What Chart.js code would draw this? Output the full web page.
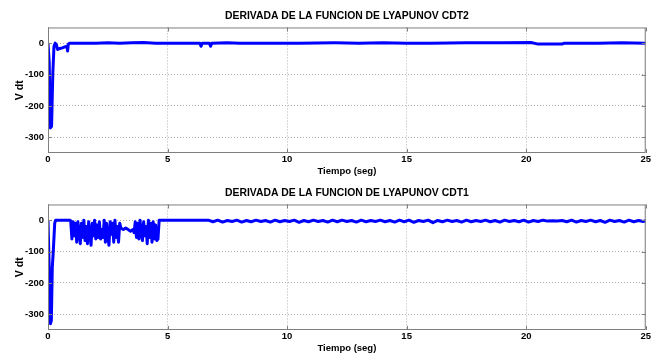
<!DOCTYPE html>
<html>
<head>
<meta charset="utf-8">
<script src="https://cdn.jsdelivr.net/npm/chart.js@4"></script>
<style>
  body { margin: 0; background: #fff; }
  .box { position: absolute; left: 0; width: 652px; height: 177px; }
  #top { top: 0; }
  #bottom { top: 177px; }
</style>
</head>
<body>
<div class="box" id="top"><canvas id="chartTop" width="652" height="177"></canvas></div>
<div class="box" id="bottom"><canvas id="chartBottom" width="652" height="177"></canvas></div>
<script>
// tick labels
const xTicks = [0, 5, 10, 15, 20, 25];
const yTicks = [-300, -200, -100, 0];

// CDT2 (upper plot)
const timeCdt2 = [0, 0.05, 0.1, 0.15, 0.2, 0.25, 0.3, 0.35, 0.4, 0.5, 0.6, 0.7, 0.8, 0.82, 0.85, 0.9,
  1.5, 2, 2.5, 3, 3.5, 4, 4.5, 5, 6, 6.35, 6.4, 6.45, 6.75, 6.8, 6.85, 7.5, 8, 10.5, 12, 13, 14, 15,
  16, 17.5, 19, 20.2, 20.5, 21.5, 21.6, 23, 24, 25];
const valCdt2 = [0, -60, -270, -265, -100, -10, 0, -5, -20, -17, -15, -12, -10, -25, -3, 0,
  0, 0, 1, 0, 1, 2, 0, 0, 0, 0, -10, 0, 0, -10, 0, 1, 0, 0, 1, 0, 1, 0,
  0, 1, 1, 2, -3, -3, 0, 0, 1, 0];

// CDT1 (lower plot)
const timeCdt1 = [0, 0.05, 0.1, 0.14, 0.18, 0.22, 0.28, 0.32, 0.9, 0.95,
  1.0, 1.05, 1.1, 1.15, 1.2, 1.25, 1.3, 1.35, 1.4, 1.45, 1.5, 1.55, 1.6, 1.65, 1.7, 1.75, 1.8, 1.85, 1.9, 1.95,
  2.0, 2.05, 2.1, 2.15, 2.2, 2.25, 2.3, 2.35, 2.4, 2.45, 2.5, 2.55, 2.6, 2.65, 2.7, 2.75, 2.8, 2.85, 2.9, 2.95, 3.0,
  3.05, 3.15, 3.25, 3.35, 3.45, 3.55, 3.6,
  3.65, 3.7, 3.75, 3.8, 3.85, 3.9, 3.95, 4.0, 4.05, 4.1, 4.15, 4.2, 4.25, 4.3, 4.35, 4.4, 4.45, 4.5, 4.55, 4.6, 4.65,
  6.7,
  6.9, 7.1, 7.3, 7.5, 7.7, 7.9, 8.1, 8.3, 8.5, 8.7, 8.9, 9.1, 9.3, 9.5, 9.7, 9.9, 10.1, 10.3, 10.5, 10.7,
  10.9, 11.1, 11.3, 11.5, 11.7, 11.9, 12.1, 12.3, 12.5, 12.7, 12.9, 13.1, 13.3, 13.5, 13.7, 13.9, 14.1, 14.3, 14.5, 14.7,
  14.9, 15.1, 15.3, 15.5, 15.7, 15.9, 16.1, 16.3, 16.5, 16.7, 16.9, 17.1, 17.3, 17.5, 17.7, 17.9, 18.1, 18.3, 18.5, 18.7,
  18.9, 19.1, 19.3, 19.5, 19.7, 19.9, 20.1, 20.3, 20.5, 20.7, 20.9, 21.1, 21.3, 21.5, 21.7, 21.9, 22.1, 22.3, 22.5, 22.7,
  22.9, 23.1, 23.3, 23.5, 23.7, 23.9, 24.1, 24.3, 24.5, 24.7, 24.9, 25];
const valCdt1 = [0, -150, -330, -320, -150, -100, -10, 0, 0, -2,
  -60, -5, -50, -10, -70, -5, -40, -75, -10, -55, 0, -65, -20, -75, -5, -45, -80, -10, -50, 0,
  -60, -15, -55, -5, -60, -30, -55, 0, -70, -10, -50, -80, -5, -45, -10, -70, 0, -55, -20, -70, -10,
  -25, -30, -25, -30, -35, -30, -40,
  -5, -55, -10, -60, 0, -45, -65, -5, -50, -20, -75, 0, -55, -10, -70, -5, -60, -15, -65, -60, 0,
  0,
  -5, 0, -6, -1, -4, 0, -6, -1, -5, 0, -4, -1, -6, 0, -5, -1, -4, 0, -7, -1,
  -5, 0, -4, -1, -6, 0, -5, 0, -4, -1, -6, 0, -5, -1, -4, 0, -5, -1, -6, 0,
  -5, 0, -7, -1, -4, 0, -8, -1, -5, 0, -4, -1, -6, 0, -5, -1, -4, 0, -5, -1,
  -6, 0, -4, -1, -5, 0, -6, -1, -4, 0, -3, -2, -3, -1, -5, 0, -6, -1, -4, 0,
  -5, -1, -7, 0, -4, -1, -6, 0, -5, -1, -4, -2];

const FONT = "'Liberation Sans', Arial, sans-serif";

// frame and inside tick marks, matlab style
const framePlugin = {
  id: "frame",
  afterDraw(chart) {
    const { ctx, chartArea: a, scales } = chart;
    ctx.save();
    ctx.strokeStyle = "#7f7f7f";
    ctx.lineWidth = 1;
    ctx.strokeRect(a.left + 0.5, a.top + 0.5, a.right - a.left - 1, a.bottom - a.top - 1);
    ctx.beginPath();
    xTicks.forEach(v => {
      const x = Math.round(scales.x.getPixelForValue(v)) + 0.5;
      ctx.moveTo(x, a.bottom); ctx.lineTo(x, a.bottom - 4);
      ctx.moveTo(x, a.top); ctx.lineTo(x, a.top + 4);
    });
    yTicks.forEach(v => {
      const y = Math.round(scales.y.getPixelForValue(v)) + 0.5;
      ctx.moveTo(a.left, y); ctx.lineTo(a.left + 4, y);
      ctx.moveTo(a.right, y); ctx.lineTo(a.right - 4, y);
    });
    ctx.stroke();
    ctx.restore();
  }
};

function makeChart(id, times, values, title) {
  return new Chart(document.getElementById(id), {
    type: "line",
    data: {
      datasets: [{
        data: times.map((t, i) => ({ x: t, y: values[i] })),
        borderColor: "#0000ff",
        borderWidth: 3,
        borderJoinStyle: "round",
        pointRadius: 0,
        tension: 0
      }]
    },
    options: {
      responsive: false,
      animation: false,
      layout: { padding: { left: 0, right: 6, top: 0, bottom: 0 } },
      plugins: {
        legend: { display: false },
        tooltip: { enabled: false },
        title: {
          display: true,
          text: title,
          fullSize: false,
          color: "#000",
          font: { family: FONT, size: 10.4, weight: "bold" },
          padding: { top: 10, bottom: 5 }
        }
      },
      scales: {
        x: {
          type: "linear",
          min: 0, max: 25,
          afterBuildTicks: s => { s.ticks = xTicks.map(v => ({ value: v })); },
          afterFit: s => { s.height = 24; },
          ticks: { color: "#000", font: { family: FONT, size: 9.5, weight: "bold" }, padding: 1, maxRotation: 0 },
          grid: { color: "#b0b0b0", tickLength: 0, drawTicks: false },
          border: { display: false, dash: [1, 2] },
          title: {
            display: true, text: "Tiempo (seg)", color: "#000",
            font: { family: FONT, size: 9.5, weight: "bold" }, padding: { top: 0, bottom: 0 }
          }
        },
        y: {
          min: -350, max: 50,
          afterBuildTicks: s => { s.ticks = yTicks.map(v => ({ value: v })); },
          afterFit: s => { s.width = 48; },
          ticks: { color: "#000", font: { family: FONT, size: 9.5, weight: "bold" }, padding: 4 },
          grid: { color: "#b0b0b0", tickLength: 0, drawTicks: false },
          border: { display: false, dash: [1, 2] },
          title: {
            display: true, text: "V dt", color: "#000",
            font: { family: FONT, size: 10.5, weight: "bold" }, padding: { top: 14, bottom: 4 }
          }
        }
      }
    },
    plugins: [framePlugin]
  });
}

makeChart("chartTop", timeCdt2, valCdt2, "DERIVADA DE LA FUNCION DE LYAPUNOV CDT2");
makeChart("chartBottom", timeCdt1, valCdt1, "DERIVADA DE LA FUNCION DE LYAPUNOV CDT1");
</script>
</body>
</html>
